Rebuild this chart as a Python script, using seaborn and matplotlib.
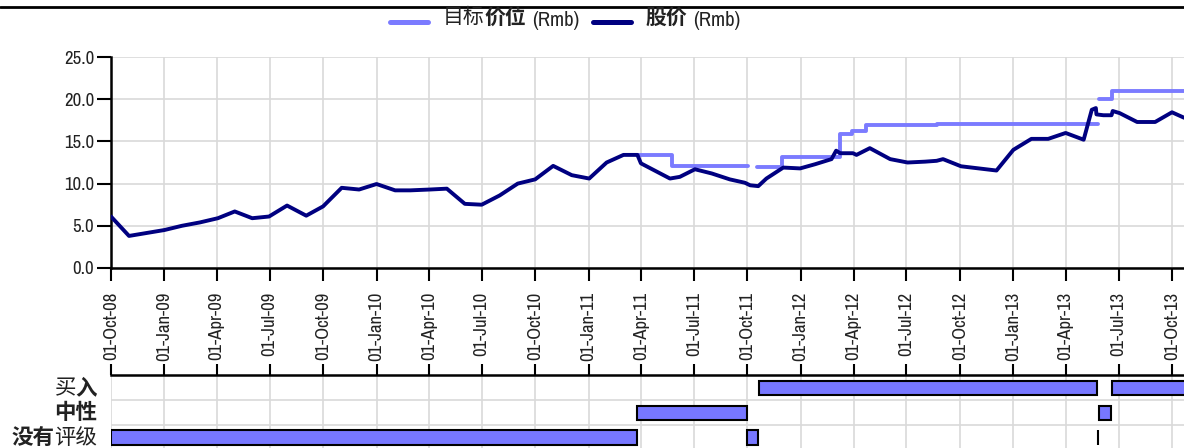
import numpy as np
import pandas as pd
import matplotlib
matplotlib.use('Agg')
import matplotlib.pyplot as plt
import matplotlib.dates as mdates
import matplotlib.transforms as mtransforms
from matplotlib.lines import Line2D
from matplotlib import font_manager
import seaborn as sns

# --- data ---
price_dates = ['2008-10-01', '2008-11-01', '2009-01-01', '2009-01-31', '2009-03-03', '2009-04-03',
               '2009-05-02', '2009-06-01', '2009-06-30', '2009-07-31', '2009-09-02', '2009-10-01',
               '2009-11-02', '2009-12-02', '2010-01-01', '2010-02-02', '2010-02-28', '2010-04-03',
               '2010-05-02', '2010-06-02', '2010-07-01', '2010-08-01', '2010-09-01', '2010-10-01',
               '2010-11-01', '2010-12-03', '2011-01-02', '2011-02-01', '2011-03-02', '2011-03-26',
               '2011-04-01', '2011-05-21', '2011-06-07', '2011-07-03', '2011-08-01', '2011-09-01',
               '2011-09-27', '2011-10-06', '2011-10-20', '2011-11-03', '2011-12-02', '2011-12-31',
               '2012-01-26', '2012-02-23', '2012-03-02', '2012-03-09', '2012-03-31', '2012-04-06',
               '2012-04-29', '2012-06-03', '2012-07-03', '2012-08-02', '2012-08-22', '2012-09-02',
               '2012-10-03', '2012-12-03', '2013-01-01', '2013-02-01', '2013-03-02', '2013-04-01',
               '2013-05-02', '2013-05-16', '2013-05-23', '2013-05-24', '2013-06-05', '2013-06-19',
               '2013-06-21', '2013-07-03', '2013-08-02', '2013-09-02', '2013-10-01', '2013-10-22']
price_values = [6.1, 3.8, 4.5, 5.0, 5.4, 5.9, 6.7, 5.9, 6.1, 7.4, 6.2, 7.3,
                9.5, 9.3, 9.95, 9.2, 9.2, 9.3, 9.4, 7.6, 7.5, 8.6, 10.0, 10.5,
                12.1, 11.0, 10.6, 12.5, 13.4, 13.4, 12.4, 10.6, 10.8, 11.7, 11.2, 10.5,
                10.1, 9.8, 9.7, 10.6, 11.9, 11.8, 12.3, 12.9, 13.9, 13.6, 13.6, 13.4,
                14.2, 12.9, 12.5, 12.6, 12.7, 12.9, 12.05, 11.55, 14.0, 15.3, 15.3, 16.0,
                15.2, 18.75, 18.95, 18.2, 18.1, 18.1, 18.6, 18.35, 17.3, 17.3, 18.45, 17.8]

# target price periods (start, end, value)
target_start = ['2011-03-25', '2011-05-24', '2011-10-18', '2011-11-29', '2012-03-09',
                '2012-03-29', '2012-04-23', '2012-08-22', '2013-05-28', '2013-06-19']
target_end = ['2011-05-24', '2011-10-03', '2011-11-29', '2012-03-09', '2012-03-29',
              '2012-04-23', '2012-08-22', '2013-05-27', '2013-06-19', '2013-11-30']
target_values = [13.4, 12.1, 12.0, 13.1, 15.9, 16.2, 16.9, 17.1, 20.0, 21.0]

# rating history
rating_names = ['没有评级', '中性', '买入']
rating_start = ['2008-10-01', '2011-03-25', '2011-09-30', '2011-10-21', '2013-05-26', '2013-05-28', '2013-06-20']
rating_end = ['2011-03-25', '2011-09-30', '2011-10-19', '2013-05-25', '2013-05-27', '2013-06-18', '2013-11-30']
rating_level = ['没有评级', '中性', '没有评级', '买入', '没有评级', '中性', '买入']

legend_labels = ['目标价位', '股价']
unit_label = '(Rmb)'

# --- styling ---
sns.set_theme(style='white')
cjk = 'Noto Sans CJK SC'
plt.rcParams['font.family'] = ['DejaVu Sans', cjk]
plt.rcParams['axes.unicode_minus'] = False


def pick_narrow_font():
    # the reference uses a narrow latin face; take one if installed
    entries = font_manager.fontManager.ttflist
    normal = [f for f in entries if f.weight in (400, 'normal', 'regular', 'book') and f.style == 'normal']
    for f in normal:
        if 'Narrow' in f.name:
            return font_manager.FontProperties(fname=f.fname)
    for f in normal:
        if f.stretch in ('condensed', 'semi-condensed') and f.name in ('DejaVu Sans', 'Liberation Sans', 'Open Sans', 'Noto Sans', 'Roboto'):
            return font_manager.FontProperties(fname=f.fname)
    return font_manager.FontProperties(family='Liberation Sans')


latin_fp = pick_narrow_font()

price_color = '#000080'
target_color = '#7B7BFF'
bar_color = '#7777FF'
grid_color = '#d9d9d9'
text_color = '#222222'

# mixed weights as in the reference labels
piece_weights = {
    '买入': [('买', 'normal'), ('入', 'bold')],
    '中性': [('中性', 'bold')],
    '没有评级': [('没有', 'bold'), ('评级', 'normal')],
    '目标价位': [('目标', 'normal'), ('价位', 'bold')],
    '股价': [('股价', 'bold')],
}

W, H = 1184, 448
fig = plt.figure(figsize=(W / 100, H / 100), dpi=100)
ax = fig.add_axes([111 / W, 180 / H, 1073 / W, 211 / H])
ax2 = fig.add_axes([111 / W, 0, 1073 / W, 73 / H], sharex=ax)

# size the latin text so a date label is as long as in the reference (~68 px)
renderer = fig.canvas.get_renderer()
probe = fig.text(0, 0, '01-Oct-08', fontproperties=latin_fp.copy())
probe.set_fontsize(10)
probe_w = probe.get_window_extent(renderer).width
probe.remove()
latin_size = min(13.5, 10 * 68 / probe_w)
tick_fp = latin_fp.copy()
tick_fp.set_size(latin_size)

# --- price & target lines ---
price_df = pd.DataFrame({'date': pd.to_datetime(price_dates), 'price': price_values})

rows = []
block = 0
for i, (s, e, v) in enumerate(zip(target_start, target_end, target_values)):
    if i > 0 and s != target_end[i - 1]:
        block += 1
    rows.append((pd.Timestamp(s), v, block))
    rows.append((pd.Timestamp(e), v, block))
target_df = pd.DataFrame(rows, columns=['date', 'target', 'block'])

sns.lineplot(data=target_df, x='date', y='target', units='block', estimator=None,
             sort=False, color=target_color, linewidth=2.8, ax=ax, legend=False, zorder=2)
sns.lineplot(data=price_df, x='date', y='price', color=price_color, linewidth=2.8,
             ax=ax, legend=False, zorder=3)

x0 = pd.Timestamp('2008-10-01')
x1 = x0 + pd.Timedelta(days=1846.7)
ax.set_xlim(x0, x1)
ax.set_ylim(0, 25)
ax.set_yticks(np.arange(0, 26, 5))
ax.yaxis.set_major_formatter(matplotlib.ticker.FormatStrFormatter('%.1f'))
ax.xaxis.set_major_locator(mdates.MonthLocator(bymonth=(1, 4, 7, 10), bymonthday=1))
ax.xaxis.set_major_formatter(mdates.DateFormatter('%d-%b-%y'))
ax.set_xlabel('')
ax.set_ylabel('')
ax.grid(True, color=grid_color, linewidth=1.2)
for side in ['top', 'right']:
    ax.spines[side].set_visible(False)
for side in ['left', 'bottom']:
    ax.spines[side].set_color('black')
    ax.spines[side].set_linewidth(1.8)
ax.tick_params(axis='y', length=10, width=1.5, color='black', pad=2,
               labelcolor=text_color, left=True)
ax.tick_params(axis='x', length=9, width=1.5, color='black', pad=8,
               labelcolor=text_color, labelrotation=90, bottom=True)

# --- rating bars ---
level_idx = [rating_names.index(r) for r in rating_level]
starts = mdates.date2num(pd.to_datetime(rating_start))
ends = mdates.date2num(pd.to_datetime(rating_end))
ax2.barh(level_idx, ends - starts, left=starts, height=0.58,
         color=bar_color, edgecolor='black', linewidth=1.5, zorder=3)
ax2.set_ylim(-0.42, 2.52)
ax2.set_yticks([0, 1, 2])
ax2.set_yticks([0.5, 1.5], minor=True)
ax2.tick_params(axis='y', which='both', length=0, labelleft=False)
ax2.xaxis.tick_top()
ax2.tick_params(axis='x', length=8, width=1.5, color='black', labeltop=False,
                labelbottom=False, top=True, bottom=False)
ax2.grid(True, axis='x', which='major', color=grid_color, linewidth=1.2)
ax2.grid(True, axis='y', which='minor', color=grid_color, linewidth=1.2)
ax2.set_xlabel('')
for side in ['left', 'right', 'bottom']:
    ax2.spines[side].set_visible(False)
ax2.spines['top'].set_color('black')
ax2.spines['top'].set_linewidth(1.8)

# narrow face on the tick labels
fig.canvas.draw()
for lbl in ax.get_xticklabels() + ax.get_yticklabels():
    lbl.set_fontproperties(tick_fp)

# rating labels, chained right to left
lab_trans = mtransforms.offset_copy(ax2.get_yaxis_transform(), fig=fig, x=-14, y=0, units='dots')
for i, name in enumerate(rating_names):
    anchor = None
    for text, weight in reversed(piece_weights[name]):
        if anchor is None:
            anchor = ax2.text(0, i, text, transform=lab_trans, ha='right', va='center',
                              fontsize=15.5, fontweight=weight, family=[cjk], color=text_color,
                              clip_on=False)
        else:
            anchor = ax2.annotate(text, xy=(0, 0.5), xycoords=anchor, xytext=(0.5, 0),
                                  textcoords='offset points', ha='right', va='center',
                                  fontsize=15.5, fontweight=weight, family=[cjk], color=text_color,
                                  annotation_clip=False)

# --- legend drawn at the top ---
fig.add_artist(Line2D([0, 1], [1 - 7 / H, 1 - 7 / H], transform=fig.transFigure,
                      color='black', linewidth=2))
unit_fp = latin_fp.copy()
unit_fp.set_size(latin_size * 1.1)
legend_items = [(legend_labels[0], target_color, 390), (legend_labels[1], price_color, 593)]
for label, col, px in legend_items:
    fig.add_artist(Line2D([px / W, (px + 38) / W], [1 - 22 / H] * 2, transform=fig.transFigure,
                          color=col, linewidth=3.6))
    prev = None
    for text, weight in piece_weights[label]:
        if prev is None:
            prev = fig.text((px + 53) / W, 1 - 17 / H, text, ha='left', va='center',
                            fontsize=15, fontweight=weight, family=[cjk], color=text_color)
        else:
            prev = fig.add_artist(matplotlib.text.Annotation(
                text, xy=(1, 0.5), xycoords=prev, ha='left', va='center',
                fontsize=15, fontweight=weight, family=[cjk], color=text_color,
                annotation_clip=False))
    fig.add_artist(matplotlib.text.Annotation(
        unit_label, xy=(1, 0.5), xycoords=prev, xytext=(4, -2.5), textcoords='offset points',
        ha='left', va='center', fontproperties=unit_fp, color=text_color,
        annotation_clip=False))

fig.savefig('out.png', dpi=100)
